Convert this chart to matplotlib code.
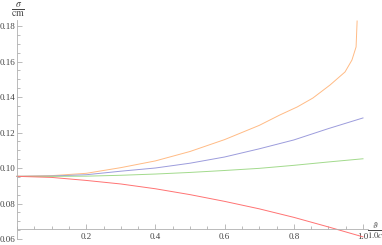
import matplotlib
matplotlib.use("Agg")
import matplotlib.pyplot as plt
from matplotlib.ticker import MultipleLocator, FormatStrFormatter

plt.rcParams["font.family"] = ["Liberation Serif", "DejaVu Serif"]
plt.rcParams["mathtext.fontset"] = "stix"

# values (x = v/c, y = sigma in cm)
x_grid = [0.0, 0.1, 0.2, 0.3, 0.4, 0.5, 0.6, 0.7, 0.8, 0.9, 1.0]
red_vals = [0.0953, 0.0947, 0.0930, 0.0910, 0.0883, 0.0850, 0.0812, 0.0770,
            0.0722, 0.0668, 0.0612]
green_vals = [0.0953, 0.0953, 0.0954, 0.0959, 0.0966, 0.0975, 0.0986, 0.0998,
              0.1015, 0.1034, 0.1052]
blue_vals = [0.0953, 0.0955, 0.0962, 0.0982, 0.1000, 0.1027, 0.1062, 0.1108,
             0.1158, 0.1222, 0.1282]
orange_x = [0.0, 0.1, 0.2, 0.3, 0.4, 0.5, 0.6, 0.7, 0.76, 0.81, 0.855, 0.905,
            0.948, 0.968, 0.98, 0.983]
orange_vals = [0.0953, 0.0957, 0.0970, 0.1002, 0.1040, 0.1093, 0.1160, 0.1240,
               0.1299, 0.1344, 0.1394, 0.1468, 0.1541, 0.1608, 0.1682, 0.1828]

x_ticks = [0.2, 0.4, 0.6, 0.8, 1.0]
y_ticks = [0.06, 0.08, 0.10, 0.12, 0.14, 0.16, 0.18]

W, H = 382, 245
fig = plt.figure(figsize=(W / 100, H / 100), dpi=100)
ax = fig.add_axes([17 / W, 6 / H, 351 / W, 219 / H])
ax.set_xlim(0, 351 / 346)
ax.set_ylim(0.06, 0.06 + 219 / 1775)

lw = 0.7
ax.plot(orange_x, orange_vals, color="#ffbb85", lw=lw, clip_on=False)
ax.plot(x_grid, blue_vals, color="#9c9cdc", lw=lw, clip_on=False)
ax.plot(x_grid, green_vals, color="#a2da8c", lw=lw, clip_on=False)
ax.plot(x_grid, red_vals, color="#ff7373", lw=lw, clip_on=False)

for side in ("top", "right"):
    ax.spines[side].set_visible(False)
ax.spines["bottom"].set_position(("data", 0.0656))
for side in ("left", "bottom"):
    ax.spines[side].set_color("#b0b0b0")
    ax.spines[side].set_linewidth(0.6)

ax.set_xticks(x_ticks)
ax.set_yticks(y_ticks)
ax.xaxis.set_minor_locator(MultipleLocator(0.05))
ax.yaxis.set_minor_locator(MultipleLocator(0.005))
ax.xaxis.set_major_formatter(FormatStrFormatter("%.1f"))
ax.yaxis.set_major_formatter(FormatStrFormatter("%.2f"))
ax.tick_params(which="both", direction="in", color="#b0b0b0", width=0.6,
               labelsize=6.5, labelcolor="#444444")
ax.tick_params(which="major", length=3.5)
ax.tick_params(which="minor", length=2)
ax.tick_params(axis="y", pad=1.2)
ax.tick_params(axis="x", pad=3)

fig.text(17.5 / W, 1 - 10 / H, r"$\frac{\sigma}{\mathrm{cm}}$", fontsize=10,
         ha="center", va="center", color="#444444")
fig.text(375 / W, 1 - 231 / H, r"$\frac{\vartheta}{1.0c}$", fontsize=9,
         ha="center", va="center", color="#444444")

fig.savefig("out.png", dpi=100)
